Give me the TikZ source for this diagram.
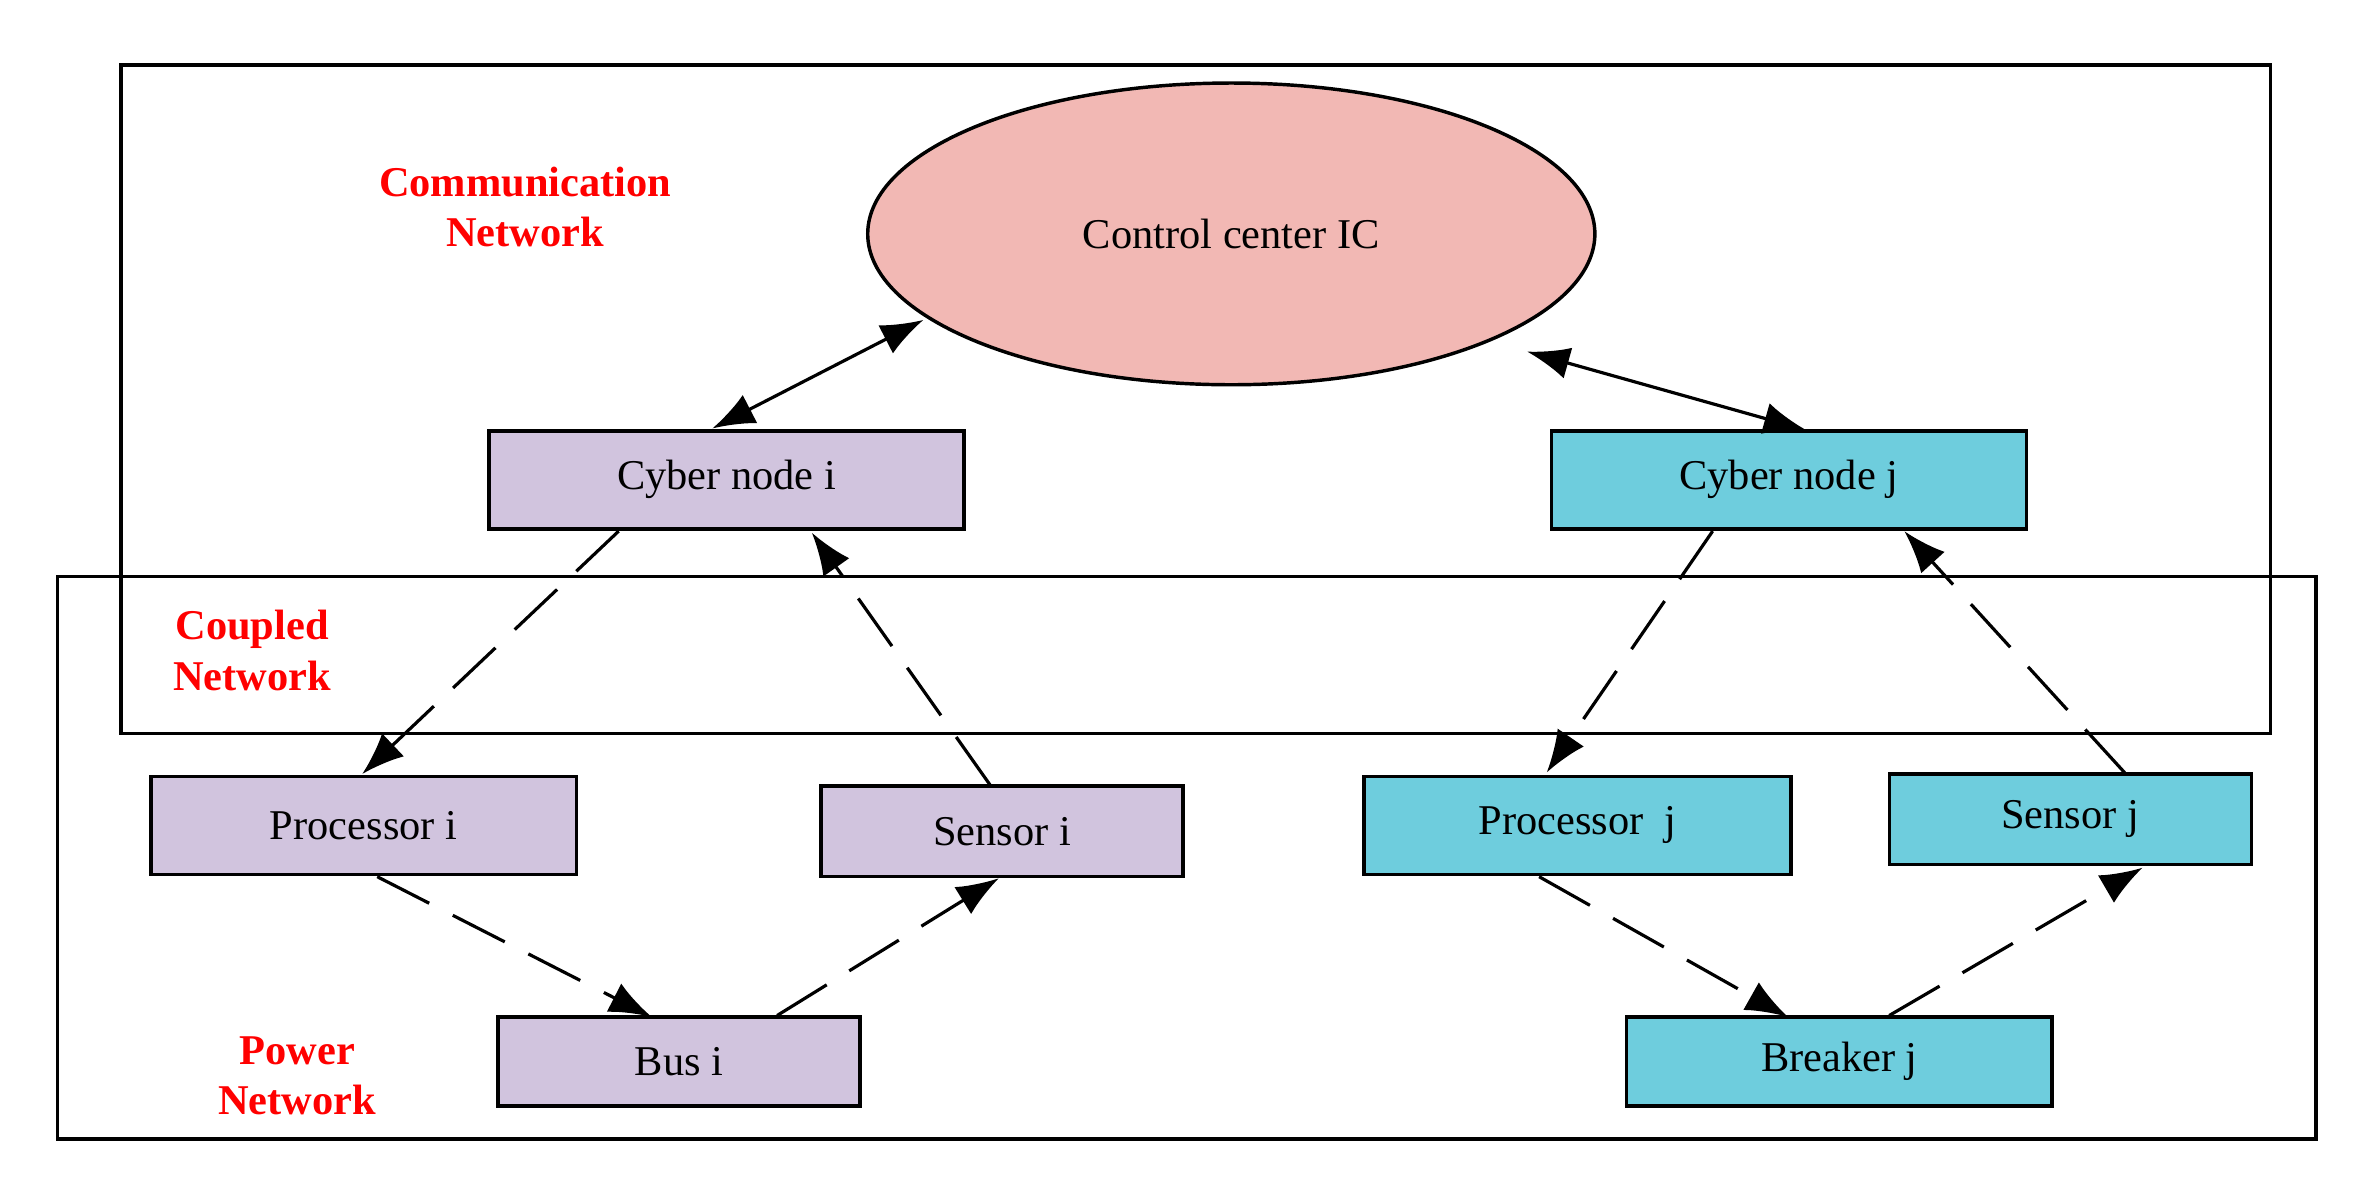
\documentclass[tikz,border=0pt]{standalone}
\usepackage{fontspec}
\setmainfont{Liberation Serif}
\usetikzlibrary{arrows.meta,shapes.geometric}
\definecolor{lav}{HTML}{D1C4DE}
\definecolor{cy}{HTML}{6ECDDD}
\definecolor{pk}{HTML}{F2B8B4}
\begin{document}
\begin{tikzpicture}[x=0.02cm,y=-0.02cm,
 box/.style={draw,line width=1.3pt,minimum height=1.3cm,font=\fontsize{16}{18}\selectfont},
 lb/.style={text=red,font=\bfseries\fontsize{16}{19}\selectfont,align=center},
 tip/.style={-{Latex[length=16pt,width=12pt]}},
 dsh/.style={tip,line width=1.2pt,dash pattern=on 22pt off 10pt}]
\useasboundingbox (0,0) rectangle (1568,794);
\node[draw,line width=1.3pt,minimum width=28.5cm,minimum height=8.86cm] (comm) at (792.5,264.5) {};
\node[draw,line width=1.3pt,minimum width=29.94cm,minimum height=7.46cm] (pow) at (786.5,568.5) {};
\node[draw,ellipse,fill=pk,line width=1.3pt,minimum width=9.64cm,minimum height=4cm,font=\fontsize{16}{18}\selectfont] (ic) at (816,155) {Control center IC};
\node[box,fill=lav,minimum width=6.3cm] (ci) at (481.5,318) {Cyber node i};
\node[box,fill=cy,minimum width=6.3cm] (cj) at (1185.5,318) {Cyber node j};
\node[box,fill=lav,minimum width=5.64cm] (pi) at (241,547) {Processor i};
\node[box,fill=lav,minimum width=4.8cm,minimum height=1.2cm] (si) at (664,551) {Sensor i};
\node[box,fill=cy,minimum width=5.66cm] (pj) at (1045.5,547) {Processor \ j};
\node[box,fill=cy,minimum width=4.8cm,minimum height=1.2cm] (sj) at (1372,543) {Sensor j};
\node[box,fill=lav,minimum width=4.8cm,minimum height=1.18cm] (bi) at (450,703.5) {Bus i};
\node[box,fill=cy,minimum width=5.64cm,minimum height=1.18cm] (bj) at (1219,703.5) {Breaker j};
\node[lb] (l1) at (348,137) {Communication\\Network};
\node[lb] (l2) at (167,431) {Coupled\\Network};
\node[lb] (l3) at (197,713) {Power\\Network};
\coordinate (a1) at (472,284); \coordinate (a2) at (612,212);
\coordinate (a3) at (1012,233); \coordinate (a4) at (1197,285);
\draw[{Latex[length=16pt,width=12pt]}-{Latex[length=16pt,width=12pt]},line width=1.2pt] (a1) -- (a2);
\draw[{Latex[length=16pt,width=12pt]}-{Latex[length=16pt,width=12pt]},line width=1.2pt] (a3) -- (a4);
\coordinate (d1) at (410,352); \coordinate (d2) at (240,513);
\coordinate (d3) at (656,520); \coordinate (d4) at (538,353);
\coordinate (d5) at (1135,352); \coordinate (d6) at (1025,512);
\coordinate (d7) at (1408,512); \coordinate (d8) at (1262,352);
\coordinate (d9) at (250,581); \coordinate (d10) at (432,674);
\coordinate (d11) at (515,673); \coordinate (d12) at (662,582);
\coordinate (d13) at (1020,581); \coordinate (d14) at (1185,674);
\coordinate (d15) at (1252,673); \coordinate (d16) at (1420,575);
\draw[dsh] (d1) -- (d2); \draw[dsh] (d3) -- (d4);
\draw[dsh] (d5) -- (d6); \draw[dsh] (d7) -- (d8);
\draw[dsh] (d9) -- (d10); \draw[dsh] (d11) -- (d12);
\draw[dsh] (d13) -- (d14); \draw[dsh] (d15) -- (d16);
\end{tikzpicture}
\end{document}
